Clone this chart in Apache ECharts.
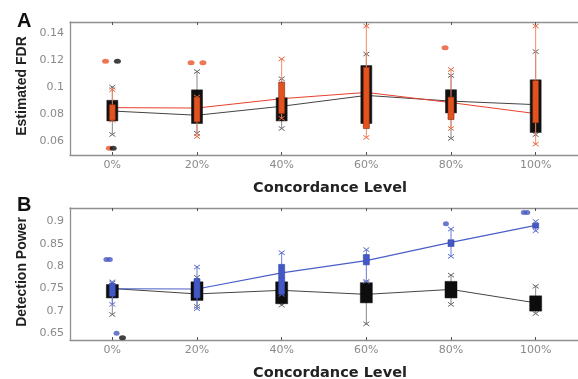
<!DOCTYPE html>
<html><head><meta charset="utf-8">
<script src="https://cdn.jsdelivr.net/npm/echarts@6/dist/echarts.min.js"></script>
<style>html,body{margin:0;padding:0;background:#fff}#c{width:578px;height:379px}</style>
</head><body><div id="c"></div>
<script>
// ---------- data ----------
const levels = ['0%', '20%', '40%', '60%', '80%', '100%'];
const fdrTicks = [0.06, 0.08, 0.1, 0.12, 0.14];
const powTicks = [0.65, 0.7, 0.75, 0.8, 0.85, 0.9];

// Panel A – Estimated FDR
const fdrBlackBoxLow   = [0.0751, 0.0732, 0.0751, 0.0732, 0.0810, 0.0666];
const fdrBlackBoxHigh  = [0.0903, 0.0980, 0.0922, 0.1159, 0.0981, 0.1054];
const fdrBlackWhiskLow = [0.0651, 0.0660, 0.0695, 0.0729, 0.0622, 0.0650];
const fdrBlackWhiskHigh= [0.1000, 0.1115, 0.1062, 0.1244, 0.1086, 0.1262];
const fdrBlackLine     = [0.0824, 0.0793, 0.0859, 0.0939, 0.0897, 0.0871];

const fdrOrangeBoxLow   = [0.0756, 0.0744, 0.0805, 0.0695, 0.0761, 0.0737];
const fdrOrangeBoxHigh  = [0.0871, 0.0927, 0.1037, 0.1147, 0.0927, 0.1049];
const fdrOrangeWhiskLow = [0.0756, 0.0636, 0.0770, 0.0629, 0.0695, 0.0580];
const fdrOrangeWhiskHigh= [0.0981, 0.0927, 0.1208, 0.1450, 0.1130, 0.1450];
const fdrOrangeLine     = [0.0849, 0.0846, 0.0915, 0.0961, 0.0886, 0.0805];

const fdrOrangeOutliers = [[-0.08, 0.119], [-0.035, 0.055], [0.93, 0.118], [1.07, 0.118], [3.93, 0.129]];
const fdrBlackOutliers  = [[0.06, 0.119], [0.01, 0.055]];

// Panel B – Detection Power
const powBlackBoxLow   = [0.729, 0.7235, 0.716, 0.718, 0.729, 0.6996];
const powBlackBoxHigh  = [0.759, 0.765, 0.765, 0.763, 0.766, 0.7337];
const powBlackWhiskLow = [0.692, 0.710, 0.713, 0.671, 0.7146, 0.694];
const powBlackWhiskHigh= [0.762, 0.775, 0.770, 0.763, 0.780, 0.755];
const powBlackLine     = [0.750, 0.738, 0.746, 0.737, 0.748, 0.718];

const powBlueBoxLow   = [0.733, 0.729, 0.737, 0.803, 0.844, 0.885];
const powBlueBoxHigh  = [0.761, 0.772, 0.804, 0.826, 0.859, 0.896];
const powBlueWhiskLow = [0.7146, 0.705, 0.737, 0.766, 0.822, 0.879];
const powBlueWhiskHigh= [0.765, 0.798, 0.830, 0.837, 0.883, 0.900];
const powBlueLine     = [0.7495, 0.749, 0.785, 0.8125, 0.853, 0.891];

const powBlueOutliers  = [[-0.07, 0.815], [-0.03, 0.815], [0.05, 0.65], [3.94, 0.895], [4.86, 0.92], [4.9, 0.92]];
const powBlackOutliers = [[0.12, 0.64]];

// ---------- helpers ----------
function boxData(bl, bh, wl, wh) {
  return levels.map((_, i) => [i, bl[i], bh[i], wl[i], wh[i]]);
}
function lineData(arr) { return levels.map((_, i) => [i, arr[i]]); }

function boxRenderer(st) {
  return function (params, api) {
    const x = api.value(0);
    const pBL = api.coord([x, api.value(1)]);
    const pBH = api.coord([x, api.value(2)]);
    const pWL = api.coord([x, api.value(3)]);
    const pWH = api.coord([x, api.value(4)]);
    const cx = pBL[0], hw = st.boxWidth / 2, m = st.mark / 2;
    const children = [
      { type: 'line', shape: { x1: cx, y1: pWH[1], x2: cx, y2: pWL[1] },
        style: { stroke: st.whisker, lineWidth: 1 } }
    ];
    [pWL[1], pWH[1]].forEach(y => {
      children.push({ type: 'line', shape: { x1: cx - m, y1: y - m * 0.7, x2: cx + m, y2: y + m * 0.7 },
        style: { stroke: st.markColor, lineWidth: 1 } });
      children.push({ type: 'line', shape: { x1: cx - m, y1: y + m * 0.7, x2: cx + m, y2: y - m * 0.7 },
        style: { stroke: st.markColor, lineWidth: 1 } });
    });
    children.push({ type: 'rect',
      shape: { x: cx - hw, y: pBH[1], width: st.boxWidth, height: pBL[1] - pBH[1] },
      style: { fill: st.fill, stroke: st.stroke, lineWidth: st.strokeWidth } });
    return { type: 'group', children };
  };
}

function tickFormatter(ticks) {
  return v => {
    const t = ticks.find(t => Math.abs(t - v) < 1e-6);
    return t === undefined ? '' : String(t);
  };
}

const axisColor = '#8f8f8f';
const labelStyle = { color: '#8a8a8a', fontSize: 11, fontFamily: 'DejaVu Sans' };

function xAxesFor(gridIndex) {
  return [
    { type: 'value', gridIndex, min: -0.5, max: 5.5, show: false },
    { type: 'category', gridIndex, data: levels, position: 'bottom', boundaryGap: true,
      axisLine: { show: true, onZero: false, lineStyle: { color: axisColor, width: 1.3 } },
      axisTick: { show: true, inside: true, alignWithLabel: true, length: 3, lineStyle: { color: '#555' } },
      axisLabel: Object.assign({ margin: 5 }, labelStyle), splitLine: { show: false } },
    { type: 'category', gridIndex, data: levels, position: 'top', boundaryGap: true,
      axisLine: { show: true, onZero: false, lineStyle: { color: axisColor, width: 1.3 } },
      axisTick: { show: true, inside: true, alignWithLabel: true, length: 3, lineStyle: { color: '#555' } },
      axisLabel: { show: false }, splitLine: { show: false } }
  ];
}

const chart = echarts.init(document.getElementById('c'), null, { renderer: 'canvas' });

const option = {
  animation: false,
  backgroundColor: '#fff',
  grid: [
    { left: 70, top: 22, width: 517, height: 133 },
    { left: 70, top: 208, width: 517, height: 132 }
  ],
  xAxis: [].concat(xAxesFor(0), xAxesFor(1)),
  yAxis: [
    { type: 'value', gridIndex: 0, min: 0.05, max: 0.148, interval: 0.002,
      axisLine: { show: true, onZero: false, lineStyle: { color: axisColor, width: 1.3 } },
      axisTick: { show: false }, splitLine: { show: false },
      axisLabel: Object.assign({ margin: 6, formatter: tickFormatter(fdrTicks) }, labelStyle) },
    { type: 'value', gridIndex: 1, min: 0.635, max: 0.93, interval: 0.005,
      axisLine: { show: true, onZero: false, lineStyle: { color: axisColor, width: 1.3 } },
      axisTick: { show: false }, splitLine: { show: false },
      axisLabel: Object.assign({ margin: 6, formatter: tickFormatter(powTicks) }, labelStyle) }
  ],
  series: [
    // Panel A lines
    { type: 'line', xAxisIndex: 0, yAxisIndex: 0, data: lineData(fdrBlackLine), symbol: 'none',
      lineStyle: { color: '#444', width: 1 }, z: 1 },
    { type: 'line', xAxisIndex: 0, yAxisIndex: 0, data: lineData(fdrOrangeLine), symbol: 'none',
      lineStyle: { color: '#e8412c', width: 1 }, z: 1 },
    // Panel A boxes
    { type: 'custom', xAxisIndex: 0, yAxisIndex: 0, z: 2,
      data: boxData(fdrBlackBoxLow, fdrBlackBoxHigh, fdrBlackWhiskLow, fdrBlackWhiskHigh),
      encode: { x: 0, y: [1, 2, 3, 4] },
      renderItem: boxRenderer({ boxWidth: 11, mark: 6, whisker: '#888', markColor: '#666',
        fill: '#111', stroke: '#111', strokeWidth: 0.5 }) },
    { type: 'custom', xAxisIndex: 0, yAxisIndex: 0, z: 3,
      data: boxData(fdrOrangeBoxLow, fdrOrangeBoxHigh, fdrOrangeWhiskLow, fdrOrangeWhiskHigh),
      encode: { x: 0, y: [1, 2, 3, 4] },
      renderItem: boxRenderer({ boxWidth: 6, mark: 6, whisker: '#ef8a68', markColor: '#ea6a44',
        fill: '#e4531f', stroke: '#7a2a12', strokeWidth: 0.6 }) },
    { type: 'scatter', xAxisIndex: 0, yAxisIndex: 0, z: 4, data: fdrOrangeOutliers,
      symbol: 'circle', symbolSize: [7, 5], itemStyle: { color: '#e8542a' } },
    { type: 'scatter', xAxisIndex: 0, yAxisIndex: 0, z: 4, data: fdrBlackOutliers,
      symbol: 'circle', symbolSize: [7, 5], itemStyle: { color: '#111' } },

    // Panel B lines
    { type: 'line', xAxisIndex: 3, yAxisIndex: 1, data: lineData(powBlackLine), symbol: 'none',
      lineStyle: { color: '#444', width: 1 }, z: 1 },
    { type: 'line', xAxisIndex: 3, yAxisIndex: 1, data: lineData(powBlueLine), symbol: 'none',
      lineStyle: { color: '#4a5ec8', width: 1.2 }, z: 1 },
    // Panel B boxes
    { type: 'custom', xAxisIndex: 3, yAxisIndex: 1, z: 2,
      data: boxData(powBlackBoxLow, powBlackBoxHigh, powBlackWhiskLow, powBlackWhiskHigh),
      encode: { x: 0, y: [1, 2, 3, 4] },
      renderItem: boxRenderer({ boxWidth: 12, mark: 6, whisker: '#888', markColor: '#666',
        fill: '#0d0d0d', stroke: '#0d0d0d', strokeWidth: 0.5 }) },
    { type: 'custom', xAxisIndex: 3, yAxisIndex: 1, z: 3,
      data: boxData(powBlueBoxLow, powBlueBoxHigh, powBlueWhiskLow, powBlueWhiskHigh),
      encode: { x: 0, y: [1, 2, 3, 4] },
      renderItem: boxRenderer({ boxWidth: 6, mark: 6, whisker: '#6a7bd6', markColor: '#5a6cd0',
        fill: '#4358c4', stroke: '#3346a8', strokeWidth: 0.6 }) },
    { type: 'scatter', xAxisIndex: 3, yAxisIndex: 1, z: 4, data: powBlueOutliers,
      symbol: 'circle', symbolSize: [6, 5], itemStyle: { color: '#4657c0' } },
    { type: 'scatter', xAxisIndex: 3, yAxisIndex: 1, z: 4, data: powBlackOutliers,
      symbol: 'circle', symbolSize: [7, 5], itemStyle: { color: '#111' } }
  ],
  graphic: [
    { type: 'text', left: 17, top: 11, style: { text: 'A', font: 'bold 20px "Liberation Sans"', fill: '#111' } },
    { type: 'text', left: 17, top: 195, style: { text: 'B', font: 'bold 20px "Liberation Sans"', fill: '#111' } },
    { type: 'text', x: 22, y: 86, rotation: Math.PI / 2,
      style: { text: 'Estimated FDR', font: 'bold 14px "Liberation Sans"', fill: '#222',
        align: 'center', verticalAlign: 'middle' } },
    { type: 'text', x: 22, y: 272, rotation: Math.PI / 2,
      style: { text: 'Detection Power', font: 'bold 14px "Liberation Sans"', fill: '#222',
        align: 'center', verticalAlign: 'middle' } },
    { type: 'text', x: 330, y: 188,
      style: { text: 'Concordance Level', font: 'bold 14.5px "DejaVu Sans"', fill: '#222',
        align: 'center', verticalAlign: 'middle' } },
    { type: 'text', x: 330, y: 373,
      style: { text: 'Concordance Level', font: 'bold 14.5px "DejaVu Sans"', fill: '#222',
        align: 'center', verticalAlign: 'middle' } }
  ]
};
chart.setOption(option);
</script>
</body></html>
